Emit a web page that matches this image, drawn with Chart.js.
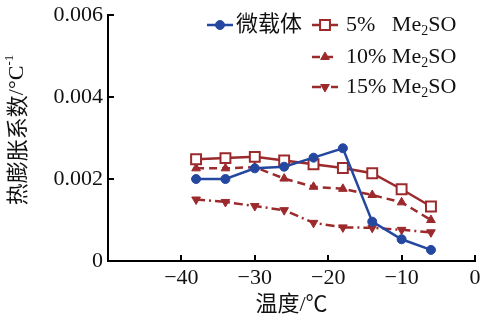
<!DOCTYPE html>
<html>
<head>
<meta charset="utf-8">
<script src="https://cdn.jsdelivr.net/npm/chart.js@4"></script>
<style>
  html, body { margin: 0; padding: 0; background: #fff; }
  #wrap { width: 480px; height: 322px; }
</style>
</head>
<body>
<div id="wrap"><canvas id="c" width="480" height="322"></canvas></div>
<script>
// données
const temps = [-38, -34, -30, -26, -22, -18, -14, -10, -6];
const microcarrier = [0.00200, 0.00200, 0.00226, 0.00230, 0.00252, 0.00275, 0.00096, 0.00053, 0.00027];
const dmso5 = [0.00248, 0.00251, 0.00254, 0.00245, 0.00236, 0.00227, 0.00214, 0.00175, 0.00133];
const dmso10 = [0.00226, 0.00226, 0.00229, 0.00201, 0.00181, 0.00176, 0.00161, 0.00143, 0.00100];
const dmso15 = [0.00150, 0.00144, 0.00134, 0.00124, 0.00093, 0.00082, 0.00081, 0.00076, 0.00070];
const seriesNames = ["微载体", "5%   Me2SO", "10% Me2SO", "15% Me2SO"];
const xTicks = [-40, -30, -20, -10, 0];
const yTicks = [0, 0.002, 0.004, 0.006];
const yTitle = ["热膨胀系数", "/°C", "-1"];

const BLUE = "#2447a0";
const RED = "#9c2a2c";
const FONT = "'Liberation Serif', 'Noto Sans CJK SC', serif";
const CJK = "'Noto Sans CJK SC', sans-serif";

function pts(ys) {
    return temps.map((t, i) => ({ x: t, y: ys[i] }));
}

// texte avec indice "2" dans Me2SO
function drawRich(ctx, text, x, y, size) {
    const m = text.match(/^(.*Me)2(SO)$/);
    ctx.textAlign = "left";
    ctx.textBaseline = "middle";
    ctx.font = size + "px " + FONT;
    if (!m) { ctx.fillText(text, x, y); return; }
    ctx.fillText(m[1], x, y);
    x += ctx.measureText(m[1]).width;
    ctx.font = Math.round(size * 0.62) + "px " + FONT;
    ctx.fillText("2", x, y + size * 0.3);
    x += ctx.measureText("2").width;
    ctx.font = size + "px " + FONT;
    ctx.fillText(m[2], x, y);
}

// zone du graphique calée sur la figure (haut 15, droite 475)
const fixArea = {
    id: "fixArea",
    afterLayout(chart) {
        const a = chart.chartArea, xs = chart.scales.x, ys = chart.scales.y;
        a.right = 475; a.top = 15;
        a.width = a.right - a.left; a.height = a.bottom - a.top;
        xs.right = 475; xs.width = xs.right - xs.left; xs.configure();
        ys.top = 15; ys.height = ys.bottom - ys.top; ys.configure();
    }
};

// graduations vers l'intérieur
const innerTicks = {
    id: "innerTicks",
    afterDatasetsDraw(chart) {
        const ctx = chart.ctx;
        const xs = chart.scales.x, ys = chart.scales.y;
        const a = chart.chartArea;
        ctx.save();
        ctx.strokeStyle = "#000";
        ctx.lineWidth = 2;
        xTicks.forEach(v => {
            const px = Math.round(xs.getPixelForValue(v));
            ctx.beginPath(); ctx.moveTo(px, a.bottom); ctx.lineTo(px, a.bottom - 6); ctx.stroke();
        });
        yTicks.forEach(v => {
            const py = Math.round(ys.getPixelForValue(v));
            ctx.beginPath(); ctx.moveTo(a.left, py); ctx.lineTo(a.left + 6, py); ctx.stroke();
        });
        ctx.restore();
    }
};

// titre vertical avec exposant
const yAxisTitle = {
    id: "yAxisTitle",
    afterDraw(chart) {
        const ctx = chart.ctx;
        ctx.save();
        ctx.translate(17, 130);
        ctx.rotate(-Math.PI / 2);
        ctx.fillStyle = "#111";
        ctx.textBaseline = "middle";
        ctx.textAlign = "left";
        const parts = [
            { t: yTitle[0], f: "22px " + CJK, dy: 0 },
            { t: yTitle[1], f: "22px " + FONT, dy: 0 },
            { t: yTitle[2], f: "13px " + FONT, dy: -7 }
        ];
        let total = 0;
        parts.forEach(p => { ctx.font = p.f; p.w = ctx.measureText(p.t).width; total += p.w; });
        let x = -total / 2;
        parts.forEach(p => { ctx.font = p.f; ctx.fillText(p.t, x, p.dy); x += p.w; });
        ctx.restore();
    }
};

// légende dessinée à la main
const customLegend = {
    id: "customLegend",
    afterDraw(chart) {
        const ctx = chart.ctx;
        const spots = [
            { x: 207, y: 25, w: 26, tx: 236 },
            { x: 312, y: 25, w: 26, tx: 346 },
            { x: 312, y: 57, w: 26, tx: 346 },
            { x: 312, y: 87, w: 26, tx: 346 }
        ];
        ctx.save();
        chart.data.datasets.forEach((ds, i) => {
            const s = spots[i];
            ctx.strokeStyle = ds.borderColor;
            ctx.lineWidth = ds.borderWidth;
            ctx.setLineDash(ds.borderDash || []);
            ctx.beginPath(); ctx.moveTo(s.x, s.y); ctx.lineTo(s.x + s.w, s.y); ctx.stroke();
            ctx.setLineDash([]);
            ctx.fillStyle = ds.pointBackgroundColor;
            ctx.strokeStyle = ds.pointBorderColor;
            ctx.lineWidth = ds.pointBorderWidth;
            Chart.helpers.drawPoint(ctx, {
                pointStyle: ds.pointStyle,
                radius: ds.pointRadius,
                rotation: ds.pointRotation || 0,
                borderWidth: ds.pointBorderWidth
            }, s.x + s.w / 2, s.y);
            ctx.fillStyle = "#111";
            drawRich(ctx, ds.label, s.tx, s.y, 22);
        });
        ctx.restore();
    }
};

const minus = v => String(v).replace("-", "\u2212");

new Chart(document.getElementById("c"), {
    type: "line",
    data: {
        datasets: [
            {
                label: seriesNames[0], data: pts(microcarrier),
                borderColor: BLUE, borderWidth: 2.5,
                pointStyle: "circle", pointRadius: 4.5,
                pointBackgroundColor: BLUE, pointBorderColor: BLUE, pointBorderWidth: 1
            },
            {
                label: seriesNames[1], data: pts(dmso5),
                borderColor: RED, borderWidth: 2.5,
                pointStyle: "rect", pointRadius: 7,
                pointBackgroundColor: "#fff", pointBorderColor: RED, pointBorderWidth: 2
            },
            {
                label: seriesNames[2], data: pts(dmso10),
                borderColor: RED, borderWidth: 2.5, borderDash: [8, 5],
                pointStyle: "triangle", pointRadius: 5,
                pointBackgroundColor: RED, pointBorderColor: RED, pointBorderWidth: 1
            },
            {
                label: seriesNames[3], data: pts(dmso15),
                borderColor: RED, borderWidth: 2.5, borderDash: [9, 4, 2, 4],
                pointStyle: "triangle", pointRotation: 180, pointRadius: 5,
                pointBackgroundColor: RED, pointBorderColor: RED, pointBorderWidth: 1
            }
        ]
    },
    options: {
        responsive: false,
        animation: false,
        layout: { padding: { top: 15, right: 5, left: 0, bottom: 0 } },
        plugins: { legend: { display: false }, tooltip: { enabled: false } },
        scales: {
            x: {
                type: "linear", min: -50, max: 0,
                afterFit: s => { s.height = 61; },
                afterBuildTicks: s => { s.ticks = xTicks.map(v => ({ value: v })); },
                grid: { display: false, drawTicks: false },
                border: { display: true, color: "#000", width: 2 },
                ticks: {
                    color: "#111", padding: 4,
                    font: { family: FONT, size: 22 },
                    callback: v => minus(v)
                },
                title: {
                    display: true, text: "温度/℃", color: "#111",
                    font: { family: FONT, size: 22 }, padding: { top: 2 }
                }
            },
            y: {
                type: "linear", min: 0, max: 0.006,
                afterFit: s => { s.width = 108; },
                afterBuildTicks: s => { s.ticks = yTicks.map(v => ({ value: v })); },
                grid: { display: false, drawTicks: false },
                border: { display: true, color: "#000", width: 2 },
                ticks: {
                    color: "#111", padding: 5,
                    font: { family: FONT, size: 22 },
                    callback: v => v === 0 ? "0" : v.toFixed(3)
                }
            }
        }
    },
    plugins: [fixArea, innerTicks, yAxisTitle, customLegend]
});
</script>
</body>
</html>
